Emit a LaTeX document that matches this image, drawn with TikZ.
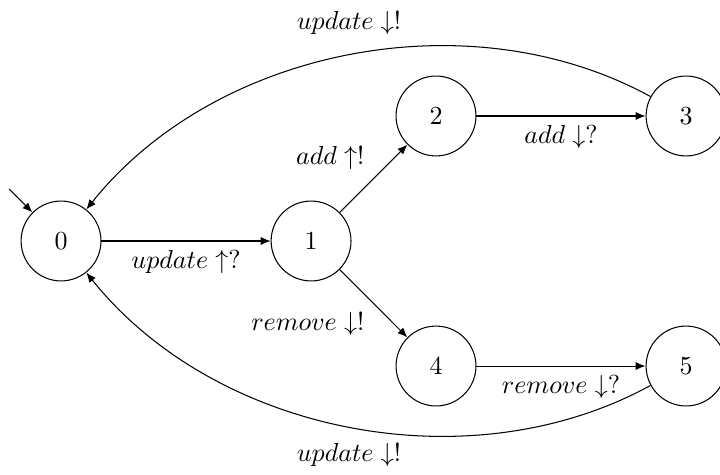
\documentclass[tikz,border=0pt]{standalone}
\usepackage{tikz}
\usetikzlibrary{arrows.meta}

\begin{document}
\begin{tikzpicture}[>={Latex[length=3.8pt,width=3.1pt]},
  state/.style={circle, draw, minimum size=1.08cm, inner sep=0pt}]

% Canvas of the picture
\useasboundingbox (-0.825,-3.163) rectangle (8.908,3.258);

% States
\node[state] (q0) at (0,0) {0};
\node[state] (q1) at (3.38,0) {1};
\node[state] (q2) at (5.069,1.69) {2};
\node[state] (q3) at (8.449,1.69) {3};
\node[state] (q4) at (5.069,-1.69) {4};
\node[state] (q5) at (8.449,-1.69) {5};

% Initial arrow into state 0
\coordinate (init) at (-0.703,0.703);
\draw[->] (init) -- (q0);

% Transitions
\draw[->] (q0) -- node[below] {$update\uparrow?$} (q1);
\draw[->] (q1) -- node[above left] {$add\uparrow!$} (q2);
\draw[->] (q1) -- node[below left] {$remove\downarrow!$} (q4);
\draw[->] (q2) -- node[below] {$add\downarrow?$} (q3);
\draw[->] (q4) -- node[below] {$remove\downarrow?$} (q5);

% Back to the start
\draw[->] (q3) to[bend right=40, looseness=0.92] node[above=4.5pt] {$update\downarrow!$} (q0);
\draw[->] (q5) to[bend left=40, looseness=0.92] node[below=3pt] {$update\downarrow!$} (q0);

\end{tikzpicture}
\end{document}
